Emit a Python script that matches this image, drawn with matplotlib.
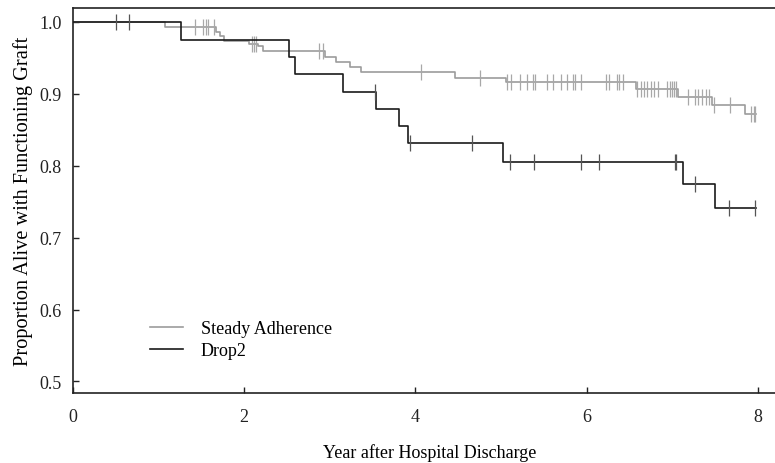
import numpy as np
import matplotlib
matplotlib.use("Agg")
import matplotlib.pyplot as plt
from matplotlib.lines import Line2D

# ---- data ----
steady_times = [0.0, 1.07, 1.67, 1.72, 1.76, 2.06, 2.16, 2.22, 2.94, 3.07, 3.24,
                3.36, 4.46, 5.06, 6.58, 7.07, 7.47, 7.85]
steady_surv = [1.0, 0.993, 0.986, 0.981, 0.973, 0.970, 0.966, 0.959, 0.951, 0.945,
               0.938, 0.931, 0.922, 0.917, 0.907, 0.896, 0.884, 0.872]
steady_censor = [1.42, 1.52, 1.55, 1.58, 1.65, 2.09, 2.11, 2.14, 2.87, 2.92, 4.07,
                 4.75, 5.07, 5.12, 5.22, 5.30, 5.37, 5.40, 5.54, 5.61, 5.70, 5.77,
                 5.84, 5.86, 5.93, 6.23, 6.26, 6.35, 6.38, 6.42, 6.59, 6.63, 6.67,
                 6.71, 6.75, 6.79, 6.83, 6.94, 6.97, 7.00, 7.02, 7.05, 7.19, 7.27,
                 7.30, 7.35, 7.39, 7.43, 7.49, 7.68, 7.92, 7.95, 7.97]
steady_end = 7.98

drop_times = [0.0, 1.26, 2.52, 2.59, 3.16, 3.54, 3.81, 3.91, 5.02, 7.13, 7.50]
drop_surv = [1.0, 0.975, 0.951, 0.927, 0.903, 0.879, 0.855, 0.831, 0.805, 0.774, 0.741]
drop_censor = [0.50, 0.66, 3.53, 3.94, 4.66, 5.11, 5.38, 5.94, 6.15, 7.03, 7.05,
               7.27, 7.66, 7.97]
drop_end = 7.98

labels = ["Steady Adherence", "Drop2"]
x_ticks = [0, 2, 4, 6, 8]
y_ticks = [0.5, 0.6, 0.7, 0.8, 0.9, 1.0]

plt.rcParams['font.family'] = ['Liberation Serif', 'DejaVu Serif']

fig = plt.figure(figsize=(7.75, 4.64), dpi=100)
# axes extends slightly past the right edge of the picture (cropped reference)
ax = fig.add_axes([73 / 775, 1 - 394 / 464, 713 / 775, (394 - 9.3) / 464])

gray = '#9c9c9c'
black = '#1a1a1a'


def km(ax, times, surv, censor, end, color, lw, cc, z):
    t = list(times) + [end]
    s = list(surv) + [surv[-1]]
    ax.step(t, s, where='post', color=color, lw=lw, zorder=z)
    idx = np.searchsorted(np.array(times), np.array(censor), side='right') - 1
    cy = np.array(surv)[idx]
    ax.plot(censor, cy, linestyle='none', marker='|', markersize=11,
            markeredgewidth=0.9, color=cc, zorder=z)


km(ax, steady_times, steady_surv, steady_censor, steady_end, gray, 1.2, '#a8a8a8', 2)
km(ax, drop_times, drop_surv, drop_censor, drop_end, black, 1.2, '#555555', 3)

ax.set_xlim(0, 713 / 85.6)
ax.set_ylim(0.484, 1.019)
ax.set_xticks(x_ticks)
ax.set_xticklabels([str(v) for v in x_ticks])
ax.set_yticks(y_ticks)
ax.set_yticklabels([f"{v:.1f}" for v in y_ticks])
ax.tick_params(direction='in', length=4, width=1, labelsize=13, pad=8, colors='#222222')
ax.tick_params(axis='x', pad=11)
ax.spines['right'].set_visible(False)
for sp in ['left', 'top', 'bottom']:
    ax.spines[sp].set_linewidth(1.2)
    ax.spines[sp].set_color('#222222')

ax.set_xlabel("Year after Hospital Discharge", fontsize=13, labelpad=13)
ax.set_ylabel("Proportion Alive with Functioning Graft", fontsize=14.7, labelpad=5)

handles = [Line2D([0], [0], color=gray, lw=1.2), Line2D([0], [0], color=black, lw=1.2)]
ax.legend(handles, labels, loc='upper left', bbox_to_anchor=(77 / 713, 0.19),
          frameon=False, fontsize=13, borderpad=0, borderaxespad=0,
          handlelength=1.85, handletextpad=0.95, labelspacing=0.3)

fig.savefig("out.png", dpi=100)
